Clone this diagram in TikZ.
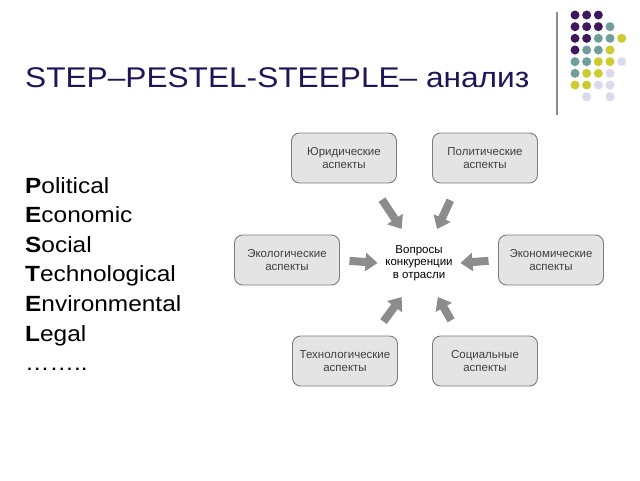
\documentclass[tikz,border=0pt]{standalone}
\usepackage{fontspec}
\setmainfont{Liberation Sans}
\newfontfamily\slidefont[FakeStretch = 1.11]{Liberation Sans}
\usetikzlibrary{positioning, arrows.meta}
\definecolor{titleblue}{RGB}{35,20,90}
\definecolor{dotp}{RGB}{62,24,92}
\definecolor{dott}{RGB}{112,158,154}
\definecolor{doty}{RGB}{204,204,50}
\definecolor{dotl}{RGB}{218,218,236}
\definecolor{boxfill}{RGB}{228,228,228}
\definecolor{boxline}{RGB}{125,125,125}
\definecolor{arrowgray}{RGB}{140,140,140}
\tikzset{
aspect/.style = {rectangle, rounded corners = 8pt, draw = boxline, fill = boxfill,
   line width = 0.9pt, minimum width = 105pt, minimum height = 50pt, align = center,
   text = black!75, font = \fontsize{11.5}{13}\selectfont, outer sep = 0pt},
hub/.style = {rectangle, minimum width = 83pt, minimum height = 68pt, align = center,
   font = \fontsize{11.5}{12.5}\selectfont, outer sep = 0pt, inner sep = 0pt},
flow/.style = {draw = arrowgray, line width = 8pt, -{Triangle[length = 12pt, width = 18pt]}},
item/.style = {anchor = base west, font = \slidefont\fontsize{22}{26}\selectfont, inner sep = 0pt},
dot/.style = {circle, inner sep = 0pt, minimum size = 9pt}
}

\begin{document}
\begin{tikzpicture}[x = 1pt, y = -1pt]
\path [use as bounding box, fill = white] (0,0) rectangle (640,480);

%% Title and decoration
\node [anchor = base west, inner sep = 0pt, text = titleblue,
   font = \slidefont\fontsize{28.5}{32}\selectfont] (title) at (25,87) {STEP–PESTEL-STEEPLE– анализ};
\draw [black!45, line width = 1.3pt] (557,12) -- (557,115);
\def\skipmark{n}
\foreach \row [count = \r from 0] in {{p,p,p},{p,p,p,t},{p,p,t,t,y},{p,t,t,y},
   {t,t,y,y,l},{t,y,y,l},{y,y,l,l},{n,l,n,l}}
   \foreach \c [count = \k from 0] in \row {
      \ifx\c\skipmark \else
         \node [dot, fill = dot\c] (d\r\k) at (575 + 11.67*\k, 15 + 11.67*\r) {};
      \fi
   }

%% Letters
\foreach \t [count = \i] in {{\textbf{P}olitical}, {\textbf{E}conomic}, {\textbf{S}ocial},
   {\textbf{T}echnological}, {\textbf{E}nvironmental}, {\textbf{L}egal}, {……..}}
   \node [item] (l\i) at (25, 193 + 29.6*\i - 29.6) {\t};

%% Aspects round the question
\node [hub] (hub) at (419,263) {Вопросы\\конкуренции\\в отрасли};
\foreach \i/\x/\y/\t in {1/344/158/{Юридические\\аспекты}, 2/485/158/{Политические\\аспекты},
   3/287/260/{Экологические\\аспекты}, 4/551/260/{Экономические\\аспекты},
   5/345/361/{Технологические\\аспекты}, 6/485/361/{Социальные\\аспекты}}
   \node [aspect] (asp\i) at (\x,\y) {\t};

\foreach \i/\a/\b/\s in {1/-43/117/20, 2/-137/62/19, 3/0/180/10,
   4/180/0/10, 5/42/243/18, 6/135/299/18}
   \draw [flow, shorten < = \s pt] (asp\i.\a) -- (hub.\b);

\end{tikzpicture}
\end{document}
